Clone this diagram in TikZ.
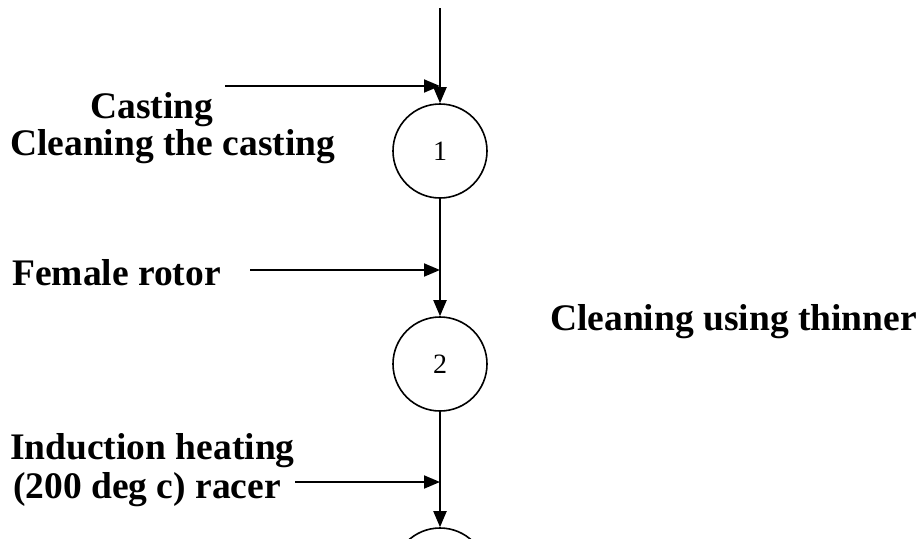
\documentclass[tikz,border=0pt]{standalone}
\usepackage{fontspec}
\setmainfont{Liberation Serif}
\usetikzlibrary{arrows.meta}
\begin{document}
\begin{tikzpicture}[x=1pt,y=-1pt,
  conn/.style={line width=1.9pt, -{Triangle[length=16pt,width=13pt]}},
  stage/.style={circle, draw, line width=1.6pt, minimum size=94pt, inner sep=0pt, font=\fontsize{28}{28}\selectfont},
  lbl/.style={font=\bfseries\fontsize{37.5}{37.5}\selectfont, inner sep=0pt, anchor=base west}]
\useasboundingbox (0,0) rectangle (923,538);
\clip (0,0) rectangle (923,538);
% stages
\node[stage] (c1) at (440,151) {1};
\node[stage] (c2) at (440,364) {2};
\node[stage] (c3) at (440,575) {};
% labels
\node[lbl] (tCasting) at (90,118) {Casting};
\node[lbl] (tClean) at (10,155) {Cleaning the casting};
\node[lbl] (tFemale) at (12,285) {Female rotor};
\node[lbl] (tThinner) at (550,330) {Cleaning using thinner};
\node[lbl] (tInd) at (10,459) {Induction heating};
\node[lbl] (tRacer) at (13,498) {(200 deg c) racer};
% connectors
\coordinate (top) at (440,8);
\coordinate (s1) at (225,86);
\coordinate (j1) at (440,86);
\coordinate (s2) at (250,270);
\coordinate (j2) at (440,270);
\coordinate (s3) at (295,482);
\coordinate (j3) at (440,482);
\draw[conn] (top) -- (c1);
\draw[conn] (s1) -- (j1);
\draw[conn] (c1) -- (c2);
\draw[conn] (s2) -- (j2);
\draw[conn] (c2) -- (c3);
\draw[conn] (s3) -- (j3);
\end{tikzpicture}
\end{document}
